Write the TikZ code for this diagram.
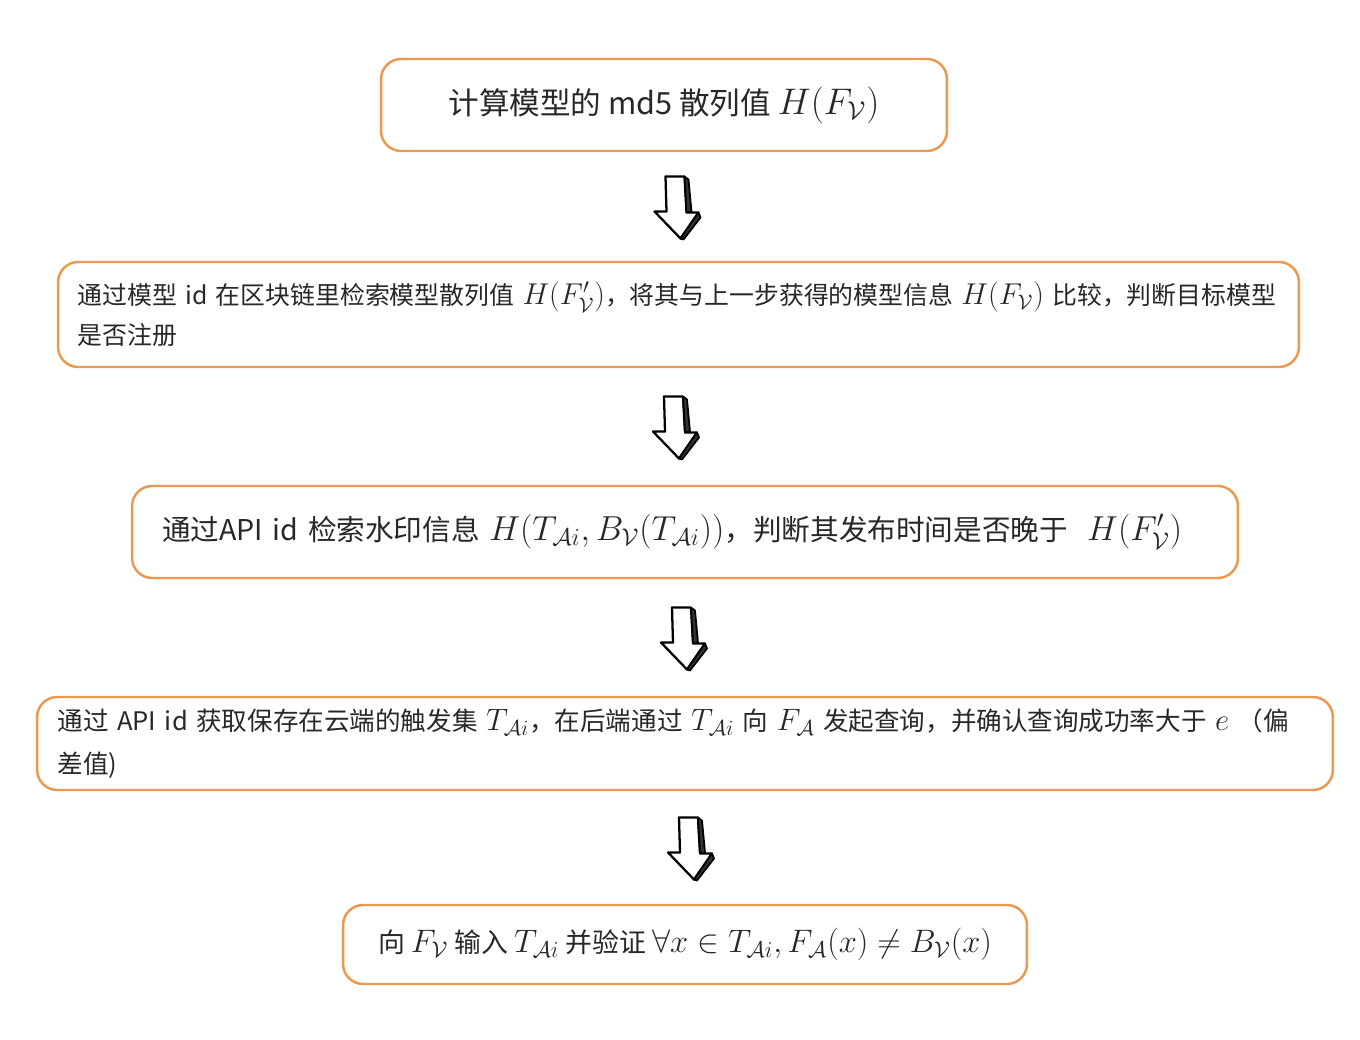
\RequirePackage{fix-cm}
\documentclass[tikz,border=0pt]{standalone}
\usepackage[no-math]{fontspec}
\usepackage{amsmath,amssymb}
\setmainfont{Noto Sans CJK SC}
\usetikzlibrary{calc}
\definecolor{boxorange}{RGB}{236,152,78}
\definecolor{textgray}{RGB}{40,40,40}
% math set a little larger than the text around it
\makeatletter
\newcommand{\km}[1]{{\fontsize{\fpeval{1.21*\f@size}}{0}\selectfont$#1$}}
\makeatother

\begin{document}
\begin{tikzpicture}[
    x=0.02cm, y=-0.02cm,
    stepbox/.style={rectangle, rounded corners=0.4cm, draw=boxorange, line width=1.4pt, fill=white, align=center, text=textgray},
    longbox/.style={stepbox, align=left, inner xsep=0.39cm},
    downarrow/.pic={
        % front face
        \draw[line width=1.3pt, line join=round, fill=white] (-13,-30) -- (6,-30) -- (8,6) -- (20,6) -- (2,32) -- (-24,5) -- (-12,5) -- cycle;
        % shaded side
        \draw[line width=1pt, line join=round, fill=black!80] (6,-30) -- (10,-27) -- (13,5) -- (8,6) -- cycle;
        \draw[line width=1pt, line join=round, fill=black!80] (20,6) -- (22,11) -- (5,33) -- (2,32) -- cycle;
    }
]
\useasboundingbox (0,0) rectangle (1360,1040);

% Steps
\node[stepbox, minimum width=11.32cm, minimum height=1.84cm, font=\fontsize{17.4}{20}\selectfont] (s1) at (664,105) {计算模型的 md5 散列值 \km{H(F_{\mathcal{V}})}};
\node[longbox, minimum width=24.82cm, minimum height=2.1cm, text width=24.04cm, font=\fontsize{14.15}{22.8}\selectfont] (s2) at (678.5,314.5) {\mbox{通过模型 id 在区块链里检索模型散列值 \km{H(F'_{\mathcal{V}})}，将其与上一步获得的模型信息 \km{H(F_{\mathcal{V}})} 比较，判断目标模型}\\是否注册};
\node[longbox, inner xsep=0.6cm, minimum width=22.12cm, minimum height=1.84cm, text width=20.92cm, font=\fontsize{16.3}{19}\selectfont] (s3) at (685,532) {\mbox{通过API id 检索水印信息 \km{H(T_{\mathcal{A}i},B_{\mathcal{V}}(T_{\mathcal{A}i}))}，判断其发布时间是否晚于 \ \km{H(F'_{\mathcal{V}})}}};
\node[longbox, minimum width=25.92cm, minimum height=1.86cm, text width=25.1cm, font=\fontsize{14.55}{24}\selectfont] (s4) at (685,743.5) {\mbox{通过 API id 获取保存在云端的触发集 \km{T_{\mathcal{A}i}}，在后端通过 \km{T_{\mathcal{A}i}} 向 \km{F_{\mathcal{A}}} 发起查询，并确认查询成功率大于 \km{e} （偏}\\差值)};
\node[stepbox, minimum width=13.68cm, minimum height=1.58cm, font=\fontsize{15.3}{18}\selectfont] (s5) at (685,944.5) {向 \km{F_{\mathcal{V}}} 输入 \km{T_{\mathcal{A}i}} 并验证 \km{\forall x\in T_{\mathcal{A}i},F_{\mathcal{A}}(x)\neq B_{\mathcal{V}}(x)}};

% Arrows between steps
\pic at ($(s1.south -| s2.north)!0.5!(s2.north)$) {downarrow};
\pic[xshift=-0.16cm] at ($(s2.south -| s3.north)!0.5!(s3.north)$) {downarrow};
\pic at ($(s3.south -| s4.north)!0.5!(s4.north)$) {downarrow};
\pic[xshift=0.14cm] at ($(s4.south -| s5.north)!0.5!(s5.north)$) {downarrow};
\end{tikzpicture}
\end{document}
